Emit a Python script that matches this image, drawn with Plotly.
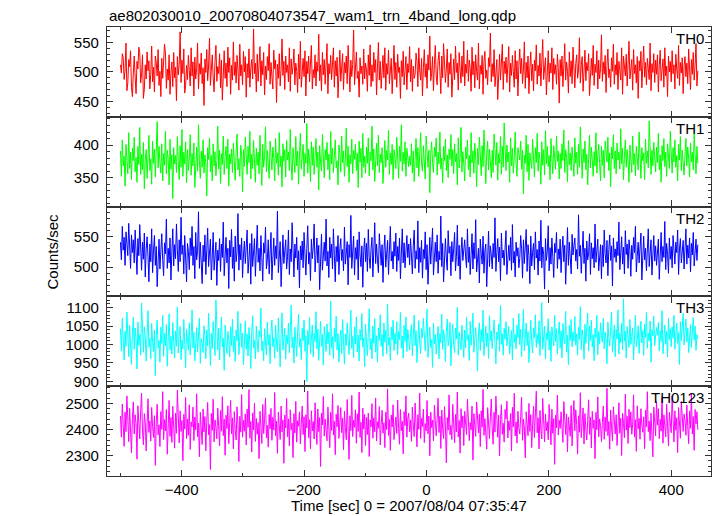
import numpy as np
import plotly.graph_objects as go
from plotly.subplots import make_subplots

T_START = -500.0
T_BIN = 1.5

th0 = [512,498,531,524,487,503,549,468,481,521,509,536,474,458,498,
527,491,463,518,505,542,533,481,497,529,455,471,512,488,534,
502,519,471,496,544,483,508,466,527,515,493,538,477,501,458,
523,489,511,547,532,472,505,486,529,462,498,517,475,533,490,
508,451,526,495,513,568,482,520,497,539,464,477,511,487,528,
502,476,541,493,517,459,525,488,506,549,471,514,496,532,480,
507,443,522,499,538,485,510,557,477,503,529,491,466,518,545,
484,509,497,531,473,520,452,508,536,489,515,475,542,499,524,
462,511,486,551,494,517,481,528,503,469,547,493,512,478,535,
500,526,457,514,490,539,474,506,521,488,573,497,515,466,530,
484,509,543,476,519,495,533,461,510,487,526,502,548,479,516,
492,471,537,505,520,448,513,489,531,476,504,556,494,518,470,
527,499,512,483,541,467,522,496,509,539,478,515,501,465,530,
488,552,474,507,523,492,536,459,518,497,527,483,510,545,471,
504,490,529,476,517,501,564,485,512,468,533,495,521,479,506,
548,463,514,497,528,487,509,541,474,519,493,525,456,511,537,
484,502,531,470,516,498,527,480,545,505,466,520,492,513,571,
478,508,534,489,501,457,524,497,510,479,539,488,515,503,467,
529,494,546,475,512,484,533,499,521,461,507,550,486,518,472,
505,528,490,541,469,514,496,537,480,511,523,463,502,545,487,
516,474,530,499,508,455,519,492,535,478,509,526,470,514,499,
543,483,521,467,510,489,496,532,518,475,541,502,486,523,459,
507,538,491,514,472,529,503,561,485,497,526,468,512,545,493,
478,519,534,501,463,527,490,548,511,482,505,539,474,516,496,
531,457,508,522,487,544,499,515,469,533,504,481,527,492,552,
476,513,498,537,484,520,506,467,542,495,518,473,529,501,486,
549,471,511,496,528,462,517,535,489,503,478,524,509,566,483,
514,492,538,475,507,521,453,499,530,486,512,547,470,518,497,
525,482,509,543,466,515,494,528,501,474,536,488,519,459,511,
539,497,523,480,505,551,472,516,490,527,463,508,534,485,513,
468,520,502,546,479,511,493,532,476,518,555,487,504,524,461,
509,536,483,515,498,541,470,523,496,512,479,530,506,447,521,
493,527,475,510,548,486,517,501,464,534,492,519,480,542,507,
473,514,529,489,503,558,481,511,526,467,498,537,485,516,502,
531,460,509,523,494,545,477,513,499,536,471,520,488,506,563,
484,517,496,528,465,511,539,490,505,474,524,501,547,479,512,
495,533,470,518,503,486,541,462,527,509,493,530,476,515,552,
488,507,521,469,538,497,512,481,526,455,519,502,535,473,510,
544,491,516,478,523,506,487,549,468,514,499,531,482,520,496,
529,466,511,537,485,504,522,474,541,493,510,458,527,500,518,
483,536,497,512,471,530,505,489,545,477,516,498,524,463,509,
526,492,515,480,539,503,470,521,496,533,486,511,548,476,502]

th1 = [391,352,408,368,383,337,401,372,356,419,364,389,347,395,376,
412,359,381,343,398,370,427,355,386,362,404,333,377,393,349,
388,415,361,379,340,406,372,394,351,383,436,365,398,374,357,
402,345,387,369,421,356,392,378,339,409,363,385,318,396,371,
384,358,413,375,347,399,366,424,352,389,371,405,342,393,361,
379,416,354,387,368,403,335,382,397,360,431,374,349,391,366,
408,357,385,372,322,396,378,411,359,384,345,402,368,390,353,
376,429,363,392,341,387,370,414,355,381,398,364,409,337,386,
371,394,358,403,376,346,389,417,362,379,352,400,385,328,393,
367,412,380,355,398,373,421,348,386,364,407,377,343,395,369,
389,356,415,374,338,401,366,384,428,359,392,371,349,406,378,
362,397,381,345,410,372,388,354,419,367,383,336,402,375,393,
351,407,377,389,361,424,370,346,396,382,358,413,368,391,340,
385,418,363,379,401,352,387,372,433,357,394,376,344,405,369,
397,355,382,410,366,389,331,399,374,360,416,381,350,393,377,
404,362,386,347,421,371,395,358,383,408,365,376,339,400,387,
359,414,373,391,352,380,426,367,398,343,385,371,409,356,392,
378,401,361,388,335,406,374,395,350,418,366,383,357,397,372,
411,353,389,376,429,362,394,344,381,403,368,415,358,386,373,
396,341,384,407,366,392,377,423,355,388,370,401,347,393,380,
364,412,386,349,398,375,431,360,389,371,405,352,395,378,367,
383,369,402,357,391,344,377,410,365,396,352,388,419,371,360,
399,375,348,414,381,366,392,327,386,405,373,358,397,382,411,
354,389,371,420,363,380,342,398,376,409,361,385,350,394,378,
416,368,393,356,402,374,387,339,411,365,381,427,359,390,372,
345,397,379,408,362,384,351,419,373,391,357,403,380,336,395,
370,412,386,353,399,367,423,378,341,388,406,362,394,375,350,
392,358,417,381,369,404,346,387,372,413,355,398,366,434,379,
361,400,374,389,343,411,368,395,357,382,420,371,352,396,385,
377,406,363,392,325,384,372,415,359,401,346,388,378,364,409,
382,351,396,373,418,360,389,377,340,405,369,393,354,422,371,
398,367,384,347,410,379,356,399,386,363,414,375,391,348,387,
364,402,376,423,358,393,381,344,407,370,388,361,397,376,352,
411,372,389,355,401,366,428,381,349,394,373,406,362,386,339,
380,415,365,397,378,352,390,368,419,357,384,401,372,345,398,
369,392,350,406,383,374,412,361,388,336,397,379,416,364,391,
356,403,377,389,363,425,371,395,347,382,408,366,393,374,343,
400,381,358,414,370,387,353,398,379,362,420,385,349,396,376,
388,347,409,372,391,365,437,378,355,392,368,404,381,359,397,
373,418,362,385,343,399,376,410,367,389,352,402,379,364,421,
390,357,396,374,408,366,384,345,401,377,413,361,392,371,354,
385,410,368,397,379,351,403,374,389,362,417,380,356,398,372]

th2 = [541,512,567,528,549,503,558,531,519,572,536,498,553,524,545,
507,561,532,488,547,519,570,526,495,541,513,556,484,529,550,
517,476,538,509,563,491,527,552,503,534,468,519,546,497,532,
555,511,486,540,522,579,498,531,507,548,479,525,563,502,537,
514,571,528,493,545,509,582,521,536,489,552,517,476,539,526,
496,548,519,567,503,534,481,557,512,527,591,498,541,515,473,
536,509,553,488,529,564,501,518,546,479,532,557,495,522,541,
470,528,511,547,493,538,516,574,486,523,549,507,531,465,544,
517,562,498,533,477,551,509,526,588,495,537,512,548,483,520,
543,506,529,561,490,518,539,472,555,501,527,547,485,534,569,
508,531,494,552,516,477,540,523,566,497,512,545,489,530,557,
479,521,548,503,535,514,592,491,526,542,468,519,553,506,532,
545,497,517,561,488,530,509,573,522,484,538,515,549,496,527,
466,535,512,543,499,557,520,487,531,568,505,524,478,546,514,
533,571,492,519,548,507,536,463,528,554,495,517,541,510,579,
502,526,483,549,515,538,497,563,521,476,534,509,552,488,530,
547,511,529,494,566,505,523,542,471,537,516,585,498,525,551,
487,532,513,545,479,558,520,501,535,467,527,548,509,539,493,
562,516,498,531,549,484,524,573,506,538,512,491,555,522,503,
537,475,528,553,500,519,544,488,531,567,510,526,497,542,518,
556,493,534,511,548,481,526,563,507,540,499,529,552,516,538,
504,547,520,489,535,561,498,527,513,576,491,532,508,544,482,
529,514,558,496,537,472,521,549,505,531,564,487,518,541,509,
553,490,526,512,584,501,539,476,528,547,515,495,560,523,534,
486,542,509,530,557,494,518,569,502,536,480,525,549,511,528,
545,517,499,563,508,533,488,521,555,497,540,514,578,492,519,
531,474,546,522,505,551,490,527,538,468,512,559,501,535,520,
497,539,516,581,493,524,547,509,533,478,556,515,528,503,542,
560,488,521,536,511,549,495,570,507,526,484,541,518,532,499,
514,552,530,482,545,506,528,562,493,537,519,473,551,502,524,
539,496,558,515,529,487,543,510,577,499,533,521,464,547,511,
526,568,494,532,505,548,517,483,539,524,557,498,530,513,546,
491,527,551,509,536,472,522,565,503,541,515,489,554,520,535,
548,510,529,497,586,518,536,490,525,559,506,531,477,543,512,
523,555,488,540,514,532,499,571,508,528,546,494,519,537,481,
536,501,561,522,507,544,486,529,553,511,535,469,548,516,530,
508,542,519,574,496,527,550,505,533,489,560,521,538,498,545,
527,485,536,513,549,524,567,492,518,541,507,530,556,479,522,
551,512,531,494,538,563,501,526,545,487,520,552,510,535,503,
519,546,480,529,557,509,534,516,575,496,539,521,490,548,513,
534,499,552,518,505,541,524,561,488,530,547,507,526,544,497,
528,563,505,536,515,548,492,539,520,557,502,531,546,511,537]

th3 = [1043,982,1071,1010,958,1036,995,1088,1019,967,1052,1001,946,1029,1074,
987,1045,1013,934,1061,998,1027,971,1113,1006,979,1048,1021,955,1035,
1092,993,1017,962,1057,1008,981,1039,916,1024,1066,990,1011,952,1047,
1003,1079,968,1031,997,1054,941,1015,1083,986,1022,974,1060,1009,963,
1037,995,1102,977,1026,1049,959,1012,988,1068,1000,937,1041,1018,984,
1059,972,1014,1094,991,1033,956,1007,1046,980,1025,1072,949,1016,1003,
978,1051,1020,962,1039,996,1085,1011,943,1030,989,1062,1005,970,1121,
1008,985,1044,958,1027,1075,994,1017,930,1053,1002,976,1036,1013,966,
1048,997,1069,981,1023,954,1040,1010,1090,973,1019,1057,992,1031,945,
1014,1064,987,1028,969,1046,1001,935,1033,1078,990,1012,961,1050,1006,
979,1037,1021,1099,983,1009,956,1043,1016,972,1061,998,1026,948,1035,
1067,994,1018,963,1052,1004,981,1072,1011,939,1029,1086,985,1015,1044,
960,1025,1003,1058,977,1040,1107,991,1020,950,1047,1007,968,1033,1082,
993,1016,959,1045,1010,1066,982,1024,899,1038,1000,1073,976,1019,1053,
966,1031,1008,1089,988,1042,957,1013,1063,995,1027,944,1049,1017,981,
1056,1002,1034,971,1118,990,1021,962,1044,1007,1077,985,1030,953,1011,
1039,976,1068,1005,947,1028,997,1059,1014,973,1036,1093,989,1022,964,
1048,1001,1075,980,1026,955,1041,1012,1084,993,1018,940,1055,1009,970,
1032,1097,986,1016,961,1050,1003,1070,979,1024,952,1045,1011,1081,995,
1027,968,1058,1006,1039,975,1110,998,1020,957,1047,1013,1066,984,1030,
1001,1062,973,1035,1014,1087,990,1023,963,1052,1008,1075,981,1041,1017,
985,1029,1054,969,1012,1080,997,1038,951,1021,1065,1004,976,1043,1019,
1071,1009,983,1034,1096,965,1025,1047,992,1013,938,1058,1002,1027,974,
1016,1049,961,1030,1005,1082,987,1040,1018,954,1036,1069,996,1011,1060,
942,1024,1055,1000,978,1045,1015,1101,971,1033,1008,986,1052,1021,965,
1039,991,1074,1012,1026,957,1063,998,1035,1085,979,1017,1046,1003,928,
1028,1059,984,1041,1007,1093,970,1022,1050,994,1031,962,1078,1010,1037,
989,1020,1067,1004,948,1034,1013,1056,982,1106,1001,1029,971,1044,1015,
1062,996,1023,1049,975,1011,1038,959,1072,1006,1027,988,1053,1019,1084,
1000,1042,967,1030,1095,983,1016,1058,997,1035,951,1024,1066,1008,977,
1045,1019,1081,992,1027,1003,1064,970,1039,1114,987,1012,1050,961,1031,
1013,1070,985,1036,954,1048,1022,996,1079,1007,1043,974,1028,1061,990,
1037,964,1057,1016,1002,1090,980,1025,945,1052,1011,1068,994,1034,1009,
1076,998,1029,971,1047,1014,1103,986,1040,1021,960,1055,1003,1032,1085,
982,1050,1010,1066,993,1027,956,1044,1018,1079,972,1035,1001,1059,1024,
1006,1071,988,1033,1012,948,1061,1020,996,1042,1088,979,1026,1053,967,
1041,1015,1094,974,1030,1005,1057,985,1124,1009,1036,963,1049,1017,992,
1068,1000,1022,1045,958,1034,1080,994,1013,1051,976,1028,1063,1004,1038,
971,1055,1019,1087,990,1031,1010,1064,952,1040,1023,1077,997,1016,1046,
1025,1060,983,1037,1008,1092,975,1029,1053,1001,1036,966,1071,1014,1043,
994,1048,1017,1079,987,1024,1058,1003,1033,946,1062,1011,1040,1085,999,
1030,1069,1007,1045,978,1021,1054,992,1038,1073,1012,1050,984,1027,1016]

th0123 = [2452,2371,2498,2415,2336,2467,2392,2529,2410,2354,2481,2398,2311,2443,2506,
2383,2457,2422,2287,2491,2405,2364,2474,2539,2396,2342,2461,2428,2318,2447,
2518,2389,2433,2356,2485,2412,2370,2453,2263,2426,2497,2380,2418,2335,2469,
2401,2545,2362,2438,2395,2477,2306,2421,2512,2374,2446,2351,2489,2408,2329,
2463,2386,2551,2417,2349,2472,2393,2435,2281,2458,2402,2523,2366,2441,2378,
2495,2324,2429,2411,2486,2358,2448,2399,2537,2372,2425,2296,2466,2407,2343,
2479,2391,2450,2319,2433,2504,2380,2419,2247,2462,2397,2516,2353,2437,2408,
2365,2482,2413,2338,2473,2394,2526,2377,2440,2302,2455,2404,2491,2346,2428,
2512,2384,2445,2326,2469,2401,2360,2487,2419,2278,2451,2390,2534,2371,2436,
2394,2460,2341,2478,2409,2553,2367,2431,2314,2464,2399,2501,2355,2443,2382,
2427,2289,2470,2412,2347,2496,2385,2439,2521,2368,2416,2333,2458,2403,2481,
2359,2447,2398,2542,2376,2432,2309,2467,2414,2362,2490,2391,2437,2271,2455,
2406,2519,2373,2441,2337,2476,2399,2425,2293,2461,2387,2508,2352,2434,2413,
2468,2345,2422,2490,2381,2449,2316,2457,2406,2548,2369,2438,2327,2472,2395,
2431,2364,2503,2410,2343,2479,2392,2446,2259,2463,2418,2527,2375,2440,2401,
2357,2486,2421,2331,2466,2397,2537,2379,2432,2304,2459,2411,2492,2366,2427,
2484,2388,2444,2323,2471,2407,2361,2515,2419,2286,2453,2396,2531,2373,2436,
2409,2476,2348,2461,2393,2544,2370,2428,2312,2482,2402,2458,2339,2447,2381,
2463,2297,2437,2411,2499,2367,2445,2392,2521,2356,2430,2405,2488,2341,2419,
2474,2386,2426,2331,2467,2400,2556,2378,2439,2321,2456,2410,2495,2362,2433,
2448,2385,2513,2404,2344,2477,2396,2432,2307,2469,2415,2529,2371,2440,2463,
2392,2437,2355,2486,2418,2373,2502,2429,2334,2457,2401,2540,2366,2444,2412,
2478,2350,2423,2395,2511,2384,2452,2300,2467,2408,2436,2357,2493,2419,2376,
2439,2520,2389,2451,2328,2475,2403,2366,2488,2414,2273,2446,2398,2533,2380,
2416,2362,2497,2425,2349,2458,2391,2544,2372,2435,2310,2480,2407,2453,2339,
2470,2402,2381,2516,2444,2358,2427,2399,2490,2284,2461,2413,2374,2506,2431,
2387,2459,2335,2472,2409,2554,2378,2442,2396,2325,2484,2420,2365,2449,2517,
2403,2344,2466,2390,2528,2412,2371,2455,2299,2438,2495,2382,2424,2352,2477,
2441,2509,2368,2433,2397,2462,2318,2485,2410,2539,2376,2429,2348,2470,2404,
2383,2451,2524,2359,2440,2406,2292,2468,2421,2377,2500,2393,2457,2331,2418,
2489,2370,2434,2547,2388,2445,2326,2473,2401,2364,2519,2425,2353,2460,2395,
2430,2361,2496,2412,2342,2478,2386,2442,2267,2455,2407,2532,2379,2436,2404,
2468,2398,2351,2507,2423,2381,2460,2315,2448,2414,2374,2492,2337,2439,2511,
2395,2476,2419,2306,2453,2390,2541,2369,2427,2483,2345,2461,2402,2360,2435,
2514,2382,2447,2330,2470,2405,2437,2289,2466,2399,2525,2372,2441,2416,2354,
2426,2490,2363,2448,2393,2558,2377,2431,2325,2475,2409,2356,2487,2420,2383,
2457,2339,2412,2503,2386,2444,2301,2462,2424,2369,2536,2398,2451,2347,2478,
2408,2468,2382,2421,2533,2371,2438,2317,2491,2403,2443,2363,2480,2415,2390,
2449,2327,2474,2410,2545,2392,2433,2358,2463,2401,2296,2486,2429,2376,2507,
2417,2480,2365,2439,2394,2523,2348,2456,2407,2372,2497,2430,2337,2466,2412,
2388,2529,2420,2353,2472,2398,2445,2312,2484,2414,2367,2508,2441,2393,2459,
2436,2378,2494,2411,2346,2471,2405,2540,2383,2450,2321,2477,2422,2468,2399]

labels = ["TH0", "TH1", "TH2", "TH3", "TH0123"]
series = [th0, th1, th2, th3, th0123]
colors = ["#ff0000", "#00ff00", "#0000ff", "#00ffff", "#ff00ff"]
y_ranges = [[423.7, 576.3], [305.7, 443.3], [452.0, 599.5], [887.0, 1130.5], [2222.5, 2566.0]]
y_dtick = [50, 50, 50, 50, 100]
y_minor = [10, 10, 10, 10, 20]

TITLE = "ae802030010_20070804073547_wam1_trn_4band_long.qdp"
XTITLE = "Time [sec] 0 = 2007/08/04 07:35:47"
YTITLE = "Counts/sec"

FONT = "Liberation Sans, Arial, Helvetica, sans-serif"
AXC = "#333333"

fig = make_subplots(rows=5, cols=1, shared_xaxes=True, vertical_spacing=0)

for i, (vals, col) in enumerate(zip(series, colors)):
    t = T_START + T_BIN * np.arange(len(vals))
    fig.add_trace(go.Scatter(x=t, y=vals, mode="lines",
                             line=dict(color=col, width=1),
                             showlegend=False, hoverinfo="skip"),
                  row=i + 1, col=1)
    fig.update_yaxes(range=y_ranges[i], dtick=y_dtick[i], tick0=0,
                     minor=dict(dtick=y_minor[i], ticks="inside", ticklen=3,
                                tickcolor=AXC, showgrid=False),
                     row=i + 1, col=1)

fig.update_xaxes(range=[-522, 465], dtick=200, tick0=0, ticks="inside", ticklen=6,
                 tickcolor=AXC, mirror="allticks", showline=True, linecolor=AXC,
                 linewidth=1.3, showgrid=False, zeroline=False, automargin=False,
                 tickfont=dict(size=15, color="black"),
                 minor=dict(dtick=100, ticks="inside", ticklen=3, tickcolor=AXC, showgrid=False))
fig.update_yaxes(ticks="inside", ticklen=6, tickcolor=AXC, mirror="allticks",
                 showline=True, linecolor=AXC, linewidth=1.3, showgrid=False,
                 zeroline=False, automargin=False, tickfont=dict(size=15, color="black"),
                 ticklabelstandoff=4)

annotations = []
for i, lab in enumerate(labels):
    top = 1.0 - 0.2 * i
    annotations.append(dict(text=lab, xref="paper", yref="paper", x=0.991, y=top,
                            xanchor="right", yanchor="top", yshift=-1, showarrow=False,
                            font=dict(size=15, color="black")))
annotations.append(dict(text=TITLE, xref="paper", yref="paper", x=0, y=1.0267,
                        xanchor="left", yanchor="middle", showarrow=False,
                        font=dict(size=15, color="black")))
annotations.append(dict(text=XTITLE, xref="paper", yref="paper", x=0.5, y=-0.0668,
                        xanchor="center", yanchor="middle", showarrow=False,
                        font=dict(size=15, color="black")))
annotations.append(dict(text=YTITLE, xref="paper", yref="paper", x=-0.091, y=0.5,
                        xanchor="center", yanchor="middle", textangle=-90, showarrow=False,
                        font=dict(size=15, color="black")))

fig.update_layout(width=717, height=516,
                  margin=dict(l=107, r=6, t=27, b=40),
                  paper_bgcolor="white", plot_bgcolor="white",
                  font=dict(family=FONT, size=15, color="black"),
                  annotations=annotations)

fig.write_html("out.html", config={"displayModeBar": False},
               post_script="document.body.style.margin='0';document.body.style.overflow='hidden';")
